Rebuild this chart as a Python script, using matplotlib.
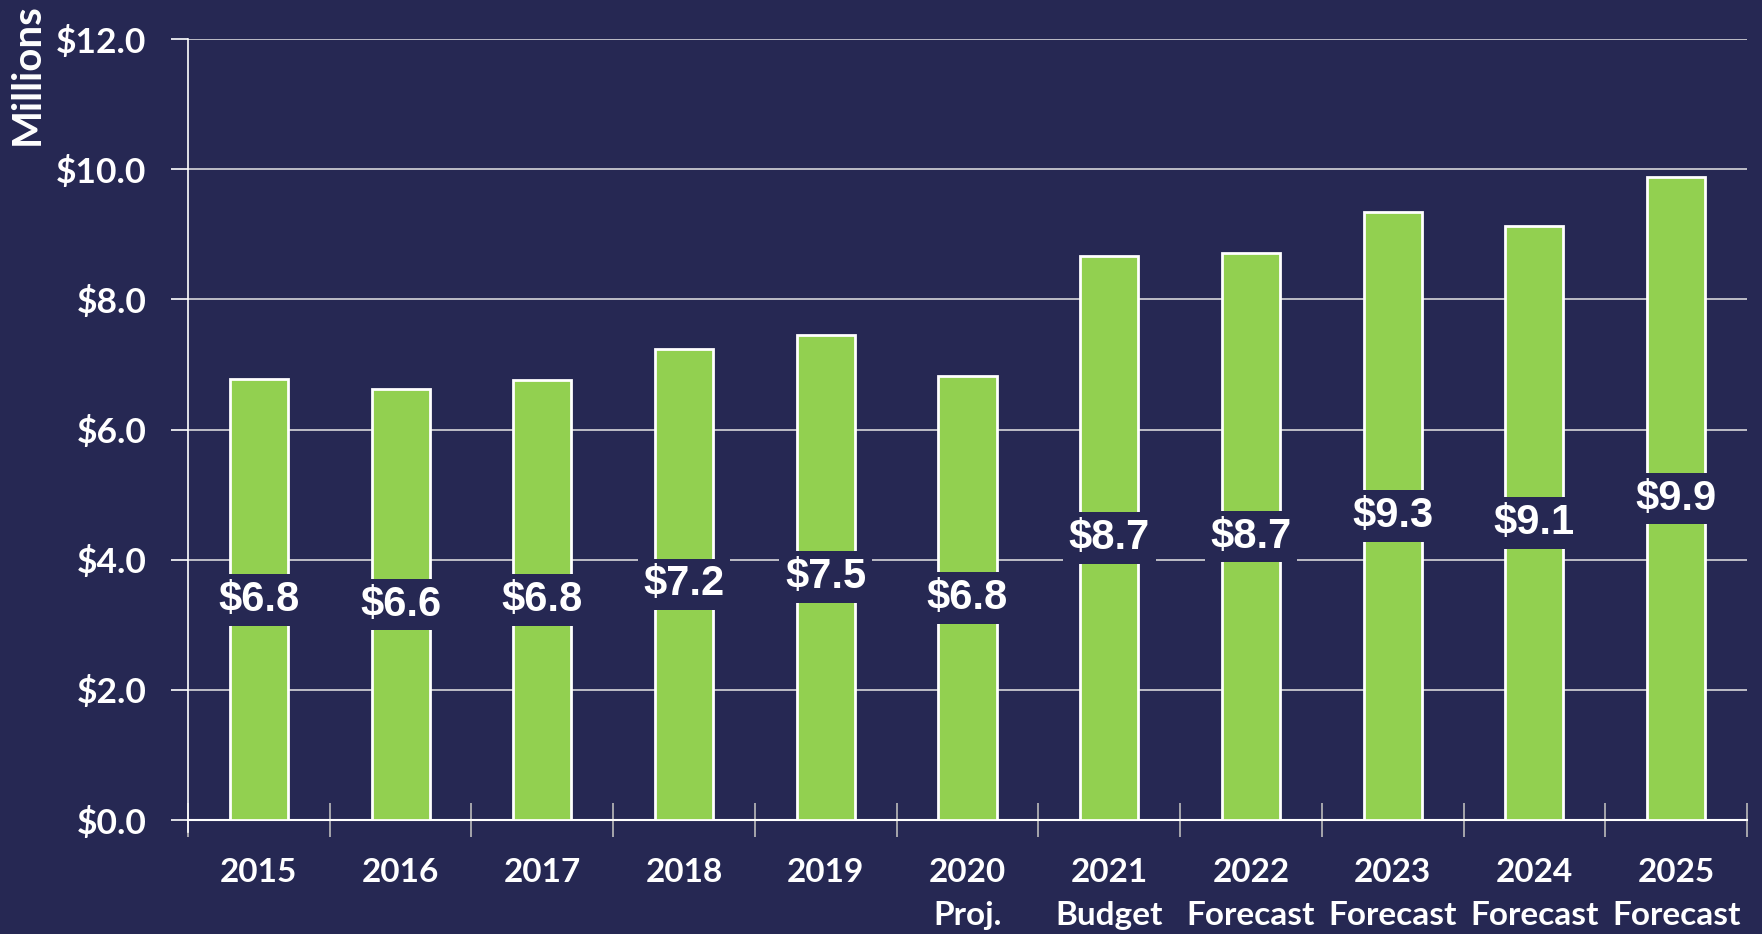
import matplotlib.pyplot as plt
import numpy as np

# data (millions of $)
years = ["2015", "2016", "2017", "2018", "2019", "2020", "2021", "2022", "2023", "2024", "2025"]
notes = ["", "", "", "", "", "Proj.", "Budget", "Forecast", "Forecast", "Forecast", "Forecast"]
values = [6.77, 6.62, 6.76, 7.24, 7.46, 6.82, 8.67, 8.71, 9.34, 9.13, 9.88]
yticks = [0, 2, 4, 6, 8, 10, 12]

bg = "#262853"
green = "#92D050"

def main():
    fig = plt.figure(figsize=(17.62, 9.34), dpi=100, facecolor=bg)
    ax = fig.add_axes([0.1067, 0.122, 0.8848, 0.8362], facecolor=bg)

    x = np.arange(len(years))
    ax.bar(x, values, width=0.41, color=green, edgecolor="white", linewidth=2, zorder=3)

    # value labels sit mid-bar with a background-coloured box cutting the bar
    for xi, v in zip(x, values):
        ax.text(xi, v / 2, "$%.1f" % v, ha="center", va="center", color="white",
                fontsize=30, fontweight="bold", family="Liberation Sans", zorder=4,
                bbox=dict(boxstyle="square,pad=0.14", facecolor=bg, edgecolor="none"))

    ax.set_xlim(-0.5, len(years) - 0.5)
    ax.set_ylim(0, 12)
    ax.set_yticks(yticks)
    ax.set_yticklabels(["$%.1f" % t for t in yticks])
    ax.yaxis.grid(True, color="#e6e6e6", linewidth=1.1, zorder=0)
    ax.set_axisbelow(True)

    labels = [y if n == "" else y + "\n" + n for y, n in zip(years, notes)]
    ax.set_xticks(x)
    ax.set_xticklabels(labels, linespacing=1.6)
    ax.set_xticks(np.arange(len(years) + 1) - 0.5, minor=True)
    ax.tick_params(axis="x", which="major", length=0, pad=27)
    ax.tick_params(axis="x", which="minor", direction="inout", length=24, color="#bbbbbb", width=1.2)
    ax.tick_params(axis="y", direction="out", length=12, color="white", width=1.2, pad=18)

    for lab in ax.get_xticklabels():
        lab.set_color("white")
        lab.set_fontsize(24)
        lab.set_fontweight("bold")
        lab.set_family("Lato")
    for lab in ax.get_yticklabels():
        lab.set_color("white")
        lab.set_fontsize(25.5)
        lab.set_fontweight("bold")
        lab.set_family("Lato")

    for s in ["top", "right"]:
        ax.spines[s].set_visible(False)
    ax.spines["left"].set_color("white")
    ax.spines["left"].set_bounds(-0.19, 12)
    ax.spines["bottom"].set_color("white")
    ax.spines["left"].set_linewidth(1.2)
    ax.spines["bottom"].set_linewidth(1.5)

    fig.text(27 / 1762, 0.921, "Millions", rotation=90, ha="center", va="center",
             color="white", fontsize=29, fontweight="bold", family="Lato")

    plt.savefig("out.png", facecolor=bg)

if __name__ == '__main__':
    main()
